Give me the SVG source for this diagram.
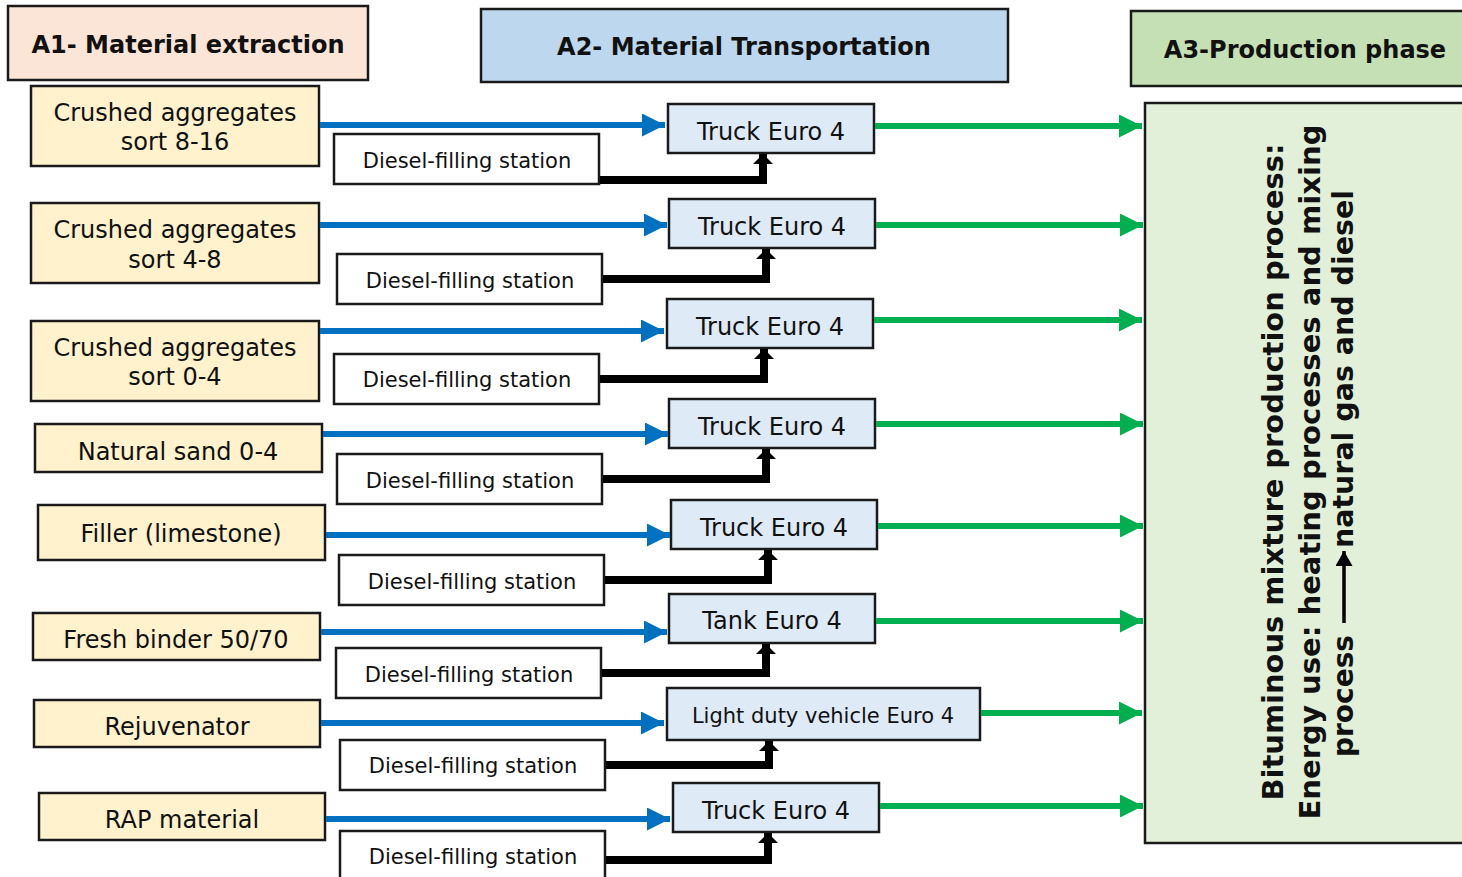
<svg xmlns="http://www.w3.org/2000/svg" width="1462" height="877" viewBox="0 0 1462 877">
<defs>
<style>
.bx{stroke:#1a1a1a;stroke-width:2.5}
.hdr{fill:#FBE5D6}
.a1{fill:#FFF2CC}
.a2h{fill:#BDD7EE}
.a3h{fill:#C5E0B4}
.tr{fill:#DEEBF7}
.ds{fill:#ffffff}
.big{fill:#E2F0D9}
text{font-family:"DejaVu Sans","Verdana",sans-serif;fill:#111;text-anchor:middle}
.h{font-size:24px;font-weight:bold}
.t{font-size:24px}
.d{font-size:21px}
.v{font-size:29px;font-weight:bold}
.vs{text-anchor:start}
.bl{stroke:#0070C0;stroke-width:6;fill:none;marker-end:url(#mb)}
.gr{stroke:#00B050;stroke-width:6;fill:none;marker-end:url(#mg)}
.bk{stroke:#000;stroke-width:8;fill:none;marker-end:url(#mk)}
.ta{stroke:#000;stroke-width:3.5;fill:none;marker-end:url(#mt)}
</style>
<marker id="mb" markerUnits="userSpaceOnUse" markerWidth="24" markerHeight="24" refX="23" refY="11.5" orient="auto"><path d="M0,0 L23,11.5 L0,23 Z" fill="#0070C0"/></marker>
<marker id="mg" markerUnits="userSpaceOnUse" markerWidth="24" markerHeight="24" refX="23" refY="11.5" orient="auto"><path d="M0,0 L23,11.5 L0,23 Z" fill="#00B050"/></marker>
<marker id="mk" markerUnits="userSpaceOnUse" markerWidth="12" markerHeight="22" refX="10" refY="10" orient="auto"><path d="M0,0 L10,10 L0,20 Z" fill="#000"/></marker>
<marker id="mt" markerUnits="userSpaceOnUse" markerWidth="16" markerHeight="18" refX="15" refY="8.5" orient="auto"><path d="M0,0 L15,8.5 L0,17 Z" fill="#000"/></marker>
</defs>
<rect width="1462" height="877" fill="#ffffff"/>

<g id="header-a1"><rect class="bx hdr" x="8" y="6" width="360" height="74"/><text class="h" x="188" y="53">A1- Material extraction</text></g>
<g id="header-a2"><rect class="bx a2h" x="481" y="9" width="527" height="73"/><text class="h" x="744" y="55">A2- Material Transportation</text></g>
<g id="header-a3"><rect class="bx a3h" x="1131" y="11" width="340" height="75"/><text class="h" x="1305" y="58">A3-Production phase</text></g>

<g id="production"><rect class="bx big" x="1145" y="103" width="330" height="740"/>
<text class="v" transform="translate(1283,472) rotate(-90)" textLength="657" lengthAdjust="spacingAndGlyphs">Bituminous mixture production process:</text>
<text class="v" transform="translate(1320,472) rotate(-90)" textLength="695" lengthAdjust="spacingAndGlyphs">Energy use: heating processes and mixing</text>
<text class="v vs" transform="translate(1353,757) rotate(-90)" textLength="122" lengthAdjust="spacingAndGlyphs">process</text>
<path class="ta" d="M1344,623 V551"/>
<text class="v vs" transform="translate(1353,548) rotate(-90)" textLength="358" lengthAdjust="spacingAndGlyphs">natural gas and diesel</text>
</g>

<g id="m1"><rect class="bx a1" x="31" y="86" width="288" height="80"/><text class="t" x="175" y="121">Crushed aggregates</text><text class="t" x="175" y="150">sort 8-16</text></g>
<g id="m2"><rect class="bx a1" x="31" y="203" width="288" height="80"/><text class="t" x="175" y="238">Crushed aggregates</text><text class="t" x="175" y="268">sort 4-8</text></g>
<g id="m3"><rect class="bx a1" x="31" y="321" width="288" height="80"/><text class="t" x="175" y="356">Crushed aggregates</text><text class="t" x="175" y="385">sort 0-4</text></g>
<g id="m4"><rect class="bx a1" x="35" y="424" width="287" height="48"/><text class="t" x="178" y="460">Natural sand 0-4</text></g>
<g id="m5"><rect class="bx a1" x="38" y="505" width="287" height="55"/><text class="t" x="181" y="542">Filler (limestone)</text></g>
<g id="m6"><rect class="bx a1" x="33" y="613" width="287" height="47"/><text class="t" x="176" y="648">Fresh binder 50/70</text></g>
<g id="m7"><rect class="bx a1" x="34" y="700" width="286" height="47"/><text class="t" x="177" y="735">Rejuvenator</text></g>
<g id="m8"><rect class="bx a1" x="39" y="793" width="286" height="47"/><text class="t" x="182" y="828">RAP material</text></g>

<g id="d1"><rect class="bx ds" x="334" y="134" width="265" height="50"/><text class="d" x="467" y="168">Diesel-filling station</text></g>
<g id="d2"><rect class="bx ds" x="337" y="254" width="265" height="50"/><text class="d" x="470" y="288">Diesel-filling station</text></g>
<g id="d3"><rect class="bx ds" x="334" y="354" width="265" height="50"/><text class="d" x="467" y="387">Diesel-filling station</text></g>
<g id="d4"><rect class="bx ds" x="337" y="454" width="265" height="50"/><text class="d" x="470" y="488">Diesel-filling station</text></g>
<g id="d5"><rect class="bx ds" x="339" y="555" width="265" height="50"/><text class="d" x="472" y="589">Diesel-filling station</text></g>
<g id="d6"><rect class="bx ds" x="336" y="648" width="265" height="50"/><text class="d" x="469" y="682">Diesel-filling station</text></g>
<g id="d7"><rect class="bx ds" x="340" y="740" width="265" height="50"/><text class="d" x="473" y="773">Diesel-filling station</text></g>
<g id="d8"><rect class="bx ds" x="340" y="831" width="265" height="50"/><text class="d" x="473" y="864">Diesel-filling station</text></g>

<g id="t1"><rect class="bx tr" x="668" y="104" width="206" height="49"/><text class="t" x="771" y="140">Truck Euro 4</text></g>
<g id="t2"><rect class="bx tr" x="669" y="199" width="206" height="49"/><text class="t" x="772" y="235">Truck Euro 4</text></g>
<g id="t3"><rect class="bx tr" x="667" y="299" width="206" height="49"/><text class="t" x="770" y="335">Truck Euro 4</text></g>
<g id="t4"><rect class="bx tr" x="669" y="399" width="206" height="49"/><text class="t" x="772" y="435">Truck Euro 4</text></g>
<g id="t5"><rect class="bx tr" x="671" y="500" width="206" height="49"/><text class="t" x="774" y="536">Truck Euro 4</text></g>
<g id="t6"><rect class="bx tr" x="669" y="594" width="206" height="49"/><text class="t" x="772" y="629">Tank Euro 4</text></g>
<g id="t7"><rect class="bx tr" x="667" y="688" width="313" height="52"/><text class="d" x="823" y="723">Light duty vehicle Euro 4</text></g>
<g id="t8"><rect class="bx tr" x="673" y="783" width="206" height="49"/><text class="t" x="776" y="819">Truck Euro 4</text></g>

<g id="connectors">
<path class="bl" d="M320,125 H665"/>
<path class="bl" d="M320,225 H667"/>
<path class="bl" d="M320,331 H664"/>
<path class="bl" d="M323,434 H668"/>
<path class="bl" d="M326,535 H670"/>
<path class="bl" d="M321,632 H667"/>
<path class="bl" d="M321,723 H664"/>
<path class="bl" d="M326,819 H670"/>

<path class="gr" d="M875,126 H1142"/>
<path class="gr" d="M876,225 H1143"/>
<path class="gr" d="M874,320 H1142"/>
<path class="gr" d="M876,424 H1143"/>
<path class="gr" d="M878,526 H1143"/>
<path class="gr" d="M876,621 H1143"/>
<path class="gr" d="M981,713 H1142"/>
<path class="gr" d="M880,806 H1143"/>

<path class="bk" d="M600,180 H763 V154"/>
<path class="bk" d="M603,279 H766 V249"/>
<path class="bk" d="M600,379 H764 V349"/>
<path class="bk" d="M603,479 H766 V449"/>
<path class="bk" d="M605,580 H768 V550"/>
<path class="bk" d="M602,673 H766 V644"/>
<path class="bk" d="M606,765 H769 V741"/>
<path class="bk" d="M606,860 H768 V833"/>
</g>
</svg>
